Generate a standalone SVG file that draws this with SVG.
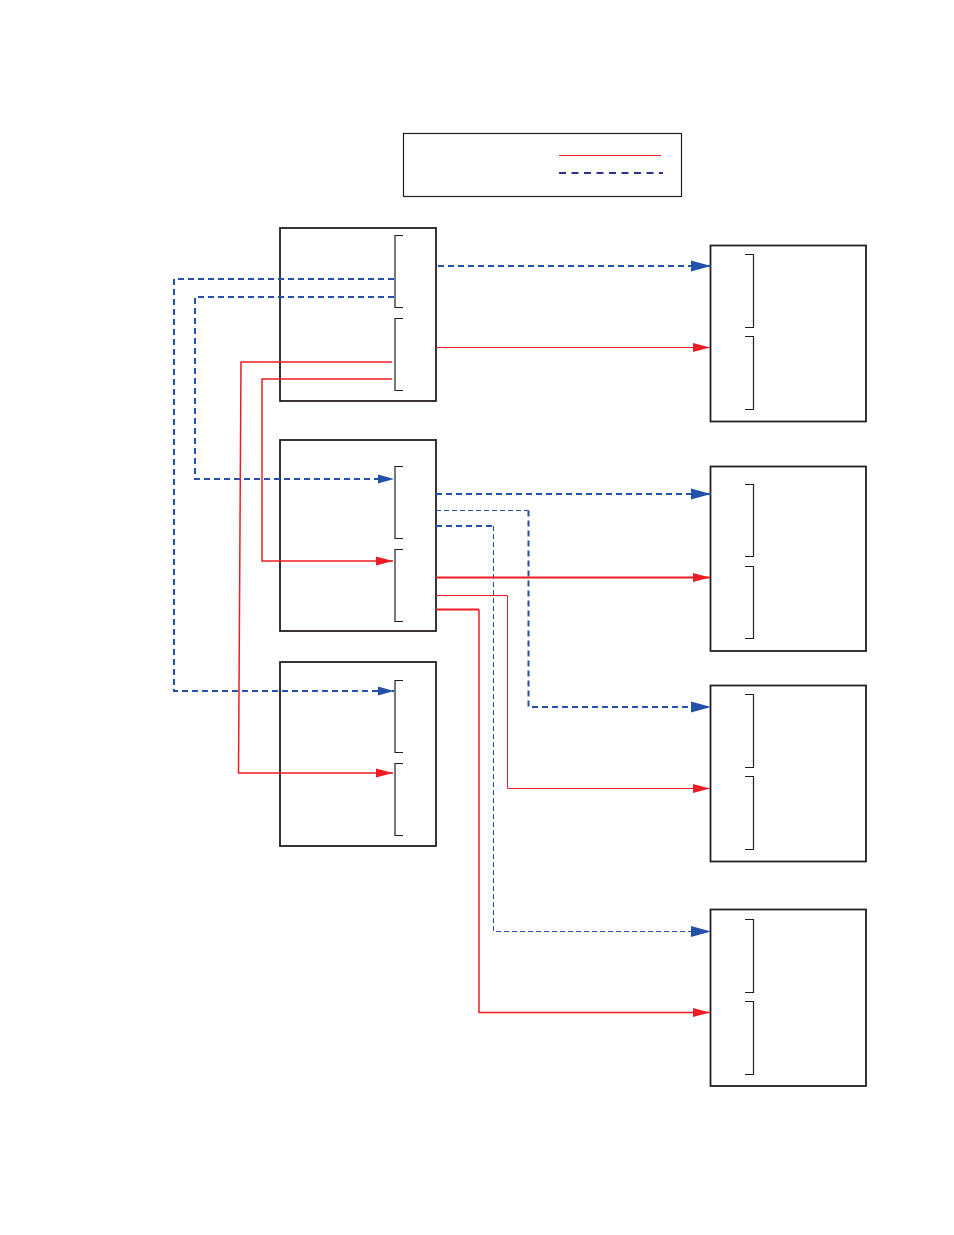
<svg xmlns="http://www.w3.org/2000/svg" width="954" height="1235" viewBox="0 0 954 1235">
<style>
.box{fill:#fff;stroke:#231f20;stroke-width:1.8}
.br{fill:none;stroke:#231f20;stroke-width:1.2}
.r{fill:none;stroke:#ed1c24;stroke-width:1}
.rt{fill:none;stroke:#ed1c24;stroke-width:2}
.b{fill:none;stroke:#2350a8;stroke-width:2;stroke-dasharray:6 4}
.bt{fill:none;stroke:#2350a8;stroke-width:1;stroke-dasharray:5 3}
</style>
<defs>
<marker id="bA" markerUnits="userSpaceOnUse" markerWidth="22" markerHeight="14" refX="20" refY="6" orient="auto" overflow="visible"><path d="M0,0.5 L20,6 L0,11.5 z" fill="#2350a8"/></marker>
<marker id="bS" markerUnits="userSpaceOnUse" markerWidth="18" markerHeight="10" refX="16" refY="4.5" orient="auto" overflow="visible"><path d="M0,0 L16,4.5 L0,9 z" fill="#2350a8"/></marker>
<marker id="rA" markerUnits="userSpaceOnUse" markerWidth="18" markerHeight="10" refX="17" refY="4.5" orient="auto" overflow="visible"><path d="M0,0 L17,4.5 L0,9 z" fill="#ed1c24"/></marker>
</defs>
<rect width="954" height="1235" fill="#fff"/>
<g id="legend">
<rect x="403.5" y="133.5" width="278" height="63" fill="#fff" stroke="#231f20" stroke-width="1.2"/>
<line x1="559" y1="155.5" x2="661" y2="155.5" stroke="#ed1c24" stroke-width="1.2"/>
<line x1="559" y1="173" x2="663" y2="173" stroke="#2e3192" stroke-width="2" stroke-dasharray="7 5.5"/>
</g>
<g id="nodeA"><rect class="box" x="280" y="228" width="156" height="173"/>
<path class="br" d="M403,235.5 H395 V307.5 H403 M403,318.5 H395 V390.5 H403"/></g>
<g id="nodeB"><rect class="box" x="280" y="440" width="156" height="191"/>
<path class="br" d="M403,466.5 H395 V538.5 H403 M403,549.5 H395 V621.5 H403"/></g>
<g id="nodeC"><rect class="box" x="280" y="662" width="156" height="184"/>
<path class="br" d="M403,680.5 H395 V752.5 H403 M403,763.5 H395 V835.5 H403"/></g>
<g id="nodeR1"><rect class="box" x="710.5" y="245.5" width="155.5" height="176"/>
<path class="br" d="M745,254.5 H753.5 V327.5 H745 M745,336.5 H753.5 V409.5 H745"/></g>
<g id="nodeR2"><rect class="box" x="710.5" y="466.5" width="155.5" height="184.5" stroke-width="2.2"/>
<path class="br" d="M745,484.5 H753.5 V556.5 H745 M745,566.5 H753.5 V638.5 H745"/></g>
<g id="nodeR3"><rect class="box" x="710.5" y="685.5" width="155.5" height="176"/>
<path class="br" d="M745,694.5 H753.5 V767.5 H745 M745,776.5 H753.5 V849.5 H745"/></g>
<g id="nodeR4"><rect class="box" x="710.5" y="909.5" width="155.5" height="176.5"/>
<path class="br" d="M745,919.5 H753.5 V992.5 H745 M745,1001.5 H753.5 V1074.5 H745"/></g>
<g id="connectors">
<path class="b" d="M438,266 H711" marker-end="url(#bA)"/>
<path class="r" d="M436,347.5 H710" marker-end="url(#rA)"/>
<path class="b" d="M394,279 H174 V691 H394" marker-end="url(#bS)"/>
<path class="b" d="M394,297 H195 V479 H394" marker-end="url(#bS)"/>
<path class="r" style="stroke-width:1.5" d="M392,362 H241 L238.5,773 H393" marker-end="url(#rA)"/>
<path class="r" style="stroke-width:1.5" d="M392,379 H262 V561 H393" marker-end="url(#rA)"/>
<path class="b" d="M436,494 H711" marker-end="url(#bA)"/>
<path class="bt" d="M436,510.5 H528.5"/>
<path class="b" d="M528.5,510.5 V707 H711" marker-end="url(#bA)"/>
<path class="b" d="M436,526 H493"/>
<path class="bt" d="M493.5,526 V931.5 H711" marker-end="url(#bA)"/>
<path class="rt" d="M436,577.5 H710" marker-end="url(#rA)"/>
<path class="r" d="M436,595.5 H507.5 V788.5 H710" marker-end="url(#rA)"/>
<path class="rt" d="M436,609.5 H479"/>
<path class="r" style="stroke-width:1.5" d="M479,609.5 V1012.5 H710" marker-end="url(#rA)"/>
</g>
</svg>
